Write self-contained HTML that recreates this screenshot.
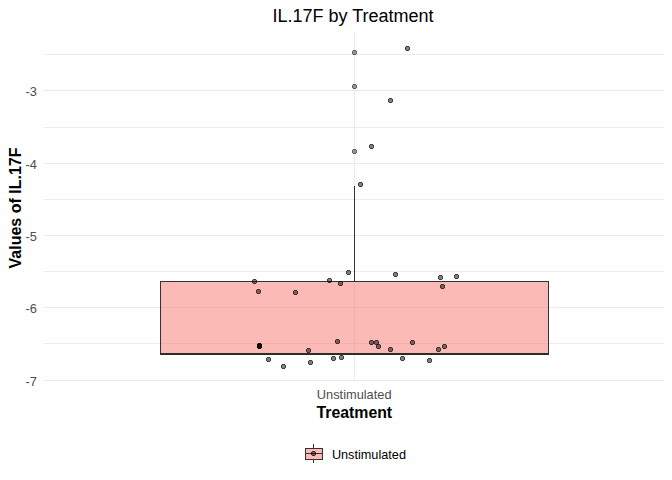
<!DOCTYPE html>
<html><head><meta charset="utf-8"><title>IL.17F by Treatment</title>
<style>
html,body{margin:0;padding:0;background:#fff}
body{width:672px;height:480px;position:relative;overflow:hidden;font-family:"Liberation Sans",sans-serif}
.t{position:absolute;white-space:nowrap;line-height:1}
.title{left:43px;width:620px;top:6.5px;text-align:center;font-size:18px;color:#000}
.yl{position:absolute;left:0;width:37px;text-align:right;font-size:12.8px;line-height:16px;height:16px;color:#4d4d4d;white-space:nowrap}
.xl{left:44.2px;width:620px;top:389px;text-align:center;font-size:12.8px;color:#4d4d4d}
.xt{left:44.3px;width:620px;top:405.3px;text-align:center;font-size:15.85px;font-weight:bold;color:#000}
.yt{left:15.6px;top:208px;font-size:16px;font-weight:bold;color:#000;transform:translate(-50%,-50%) rotate(-90deg);transform-origin:center}
.lg{left:331.9px;top:449px;font-size:12.7px;color:#000}
</style></head><body>
<svg width="672" height="480" viewBox="0 0 672 480" style="position:absolute;left:0;top:0">
<rect width="672" height="480" fill="#fff"/>
<rect x="44" y="54" width="620" height="1" fill="#ebebeb"/>
<rect x="44" y="90" width="620" height="1" fill="#ebebeb"/>
<rect x="44" y="127" width="620" height="1" fill="#ebebeb"/>
<rect x="44" y="163" width="620" height="1" fill="#ebebeb"/>
<rect x="44" y="199" width="620" height="1" fill="#ebebeb"/>
<rect x="44" y="235" width="620" height="1" fill="#ebebeb"/>
<rect x="44" y="271" width="620" height="1" fill="#ebebeb"/>
<rect x="44" y="307" width="620" height="1" fill="#ebebeb"/>
<rect x="44" y="343" width="620" height="1" fill="#ebebeb"/>
<rect x="44" y="380" width="620" height="1" fill="#ebebeb"/>
<rect x="354" y="32" width="1" height="349.5" fill="#ebebeb"/>
<rect x="354" y="186" width="1" height="96" fill="#333"/>
<g transform="translate(352,50)"><path d="M1 0h3v1h-3zM1 4h3v1h-3zM0 1h1v3h-1zM4 1h1v3h-1z" fill="rgba(51,51,51,0.78)"/><path d="M1 1h3v3h-3z" fill="rgba(51,51,51,0.5)"/><path d="M0 0h1v1h-1zM4 0h1v1h-1zM0 4h1v1h-1zM4 4h1v1h-1z" fill="rgba(51,51,51,0.1)"/></g>
<g transform="translate(352,84)"><path d="M1 0h3v1h-3zM1 4h3v1h-3zM0 1h1v3h-1zM4 1h1v3h-1z" fill="rgba(51,51,51,0.78)"/><path d="M1 1h3v3h-3z" fill="rgba(51,51,51,0.5)"/><path d="M0 0h1v1h-1zM4 0h1v1h-1zM0 4h1v1h-1zM4 4h1v1h-1z" fill="rgba(51,51,51,0.1)"/></g>
<g transform="translate(352,149)"><path d="M1 0h3v1h-3zM1 4h3v1h-3zM0 1h1v3h-1zM4 1h1v3h-1z" fill="rgba(51,51,51,0.78)"/><path d="M1 1h3v3h-3z" fill="rgba(51,51,51,0.5)"/><path d="M0 0h1v1h-1zM4 0h1v1h-1zM0 4h1v1h-1zM4 4h1v1h-1z" fill="rgba(51,51,51,0.1)"/></g>
<rect x="160.5" y="281.5" width="388" height="72.5" fill="rgba(248,118,109,0.5)" stroke="#333" stroke-width="1"/>
<rect x="160" y="353" width="389" height="2" fill="#2c2c2c"/>
<g transform="translate(405,46)"><path d="M1 0h3v1h-3zM1 4h3v1h-3zM0 1h1v3h-1zM4 1h1v3h-1z" fill="rgba(0,0,0,0.75)"/><path d="M1 1h3v3h-3z" fill="rgba(0,0,0,0.5)"/><path d="M0 0h1v1h-1zM4 0h1v1h-1zM0 4h1v1h-1zM4 4h1v1h-1z" fill="rgba(0,0,0,0.1)"/></g>
<g transform="translate(388,98)"><path d="M1 0h3v1h-3zM1 4h3v1h-3zM0 1h1v3h-1zM4 1h1v3h-1z" fill="rgba(0,0,0,0.75)"/><path d="M1 1h3v3h-3z" fill="rgba(0,0,0,0.5)"/><path d="M0 0h1v1h-1zM4 0h1v1h-1zM0 4h1v1h-1zM4 4h1v1h-1z" fill="rgba(0,0,0,0.1)"/></g>
<g transform="translate(369,144)"><path d="M1 0h3v1h-3zM1 4h3v1h-3zM0 1h1v3h-1zM4 1h1v3h-1z" fill="rgba(0,0,0,0.75)"/><path d="M1 1h3v3h-3z" fill="rgba(0,0,0,0.5)"/><path d="M0 0h1v1h-1zM4 0h1v1h-1zM0 4h1v1h-1zM4 4h1v1h-1z" fill="rgba(0,0,0,0.1)"/></g>
<g transform="translate(358,182)"><path d="M1 0h3v1h-3zM1 4h3v1h-3zM0 1h1v3h-1zM4 1h1v3h-1z" fill="rgba(0,0,0,0.75)"/><path d="M1 1h3v3h-3z" fill="rgba(0,0,0,0.5)"/><path d="M0 0h1v1h-1zM4 0h1v1h-1zM0 4h1v1h-1zM4 4h1v1h-1z" fill="rgba(0,0,0,0.1)"/></g>
<g transform="translate(252,279)"><path d="M1 0h3v1h-3zM1 4h3v1h-3zM0 1h1v3h-1zM4 1h1v3h-1z" fill="rgba(0,0,0,0.75)"/><path d="M1 1h3v3h-3z" fill="rgba(0,0,0,0.5)"/><path d="M0 0h1v1h-1zM4 0h1v1h-1zM0 4h1v1h-1zM4 4h1v1h-1z" fill="rgba(0,0,0,0.1)"/></g>
<g transform="translate(256,289)"><path d="M1 0h3v1h-3zM1 4h3v1h-3zM0 1h1v3h-1zM4 1h1v3h-1z" fill="rgba(0,0,0,0.75)"/><path d="M1 1h3v3h-3z" fill="rgba(0,0,0,0.5)"/><path d="M0 0h1v1h-1zM4 0h1v1h-1zM0 4h1v1h-1zM4 4h1v1h-1z" fill="rgba(0,0,0,0.1)"/></g>
<g transform="translate(266,357)"><path d="M1 0h3v1h-3zM1 4h3v1h-3zM0 1h1v3h-1zM4 1h1v3h-1z" fill="rgba(0,0,0,0.75)"/><path d="M1 1h3v3h-3z" fill="rgba(0,0,0,0.5)"/><path d="M0 0h1v1h-1zM4 0h1v1h-1zM0 4h1v1h-1zM4 4h1v1h-1z" fill="rgba(0,0,0,0.1)"/></g>
<g transform="translate(281,364)"><path d="M1 0h3v1h-3zM1 4h3v1h-3zM0 1h1v3h-1zM4 1h1v3h-1z" fill="rgba(0,0,0,0.75)"/><path d="M1 1h3v3h-3z" fill="rgba(0,0,0,0.5)"/><path d="M0 0h1v1h-1zM4 0h1v1h-1zM0 4h1v1h-1zM4 4h1v1h-1z" fill="rgba(0,0,0,0.1)"/></g>
<g transform="translate(293,290)"><path d="M1 0h3v1h-3zM1 4h3v1h-3zM0 1h1v3h-1zM4 1h1v3h-1z" fill="rgba(0,0,0,0.75)"/><path d="M1 1h3v3h-3z" fill="rgba(0,0,0,0.5)"/><path d="M0 0h1v1h-1zM4 0h1v1h-1zM0 4h1v1h-1zM4 4h1v1h-1z" fill="rgba(0,0,0,0.1)"/></g>
<g transform="translate(306,348)"><path d="M1 0h3v1h-3zM1 4h3v1h-3zM0 1h1v3h-1zM4 1h1v3h-1z" fill="rgba(0,0,0,0.75)"/><path d="M1 1h3v3h-3z" fill="rgba(0,0,0,0.5)"/><path d="M0 0h1v1h-1zM4 0h1v1h-1zM0 4h1v1h-1zM4 4h1v1h-1z" fill="rgba(0,0,0,0.1)"/></g>
<g transform="translate(308,360)"><path d="M1 0h3v1h-3zM1 4h3v1h-3zM0 1h1v3h-1zM4 1h1v3h-1z" fill="rgba(0,0,0,0.75)"/><path d="M1 1h3v3h-3z" fill="rgba(0,0,0,0.5)"/><path d="M0 0h1v1h-1zM4 0h1v1h-1zM0 4h1v1h-1zM4 4h1v1h-1z" fill="rgba(0,0,0,0.1)"/></g>
<g transform="translate(327,278)"><path d="M1 0h3v1h-3zM1 4h3v1h-3zM0 1h1v3h-1zM4 1h1v3h-1z" fill="rgba(0,0,0,0.75)"/><path d="M1 1h3v3h-3z" fill="rgba(0,0,0,0.5)"/><path d="M0 0h1v1h-1zM4 0h1v1h-1zM0 4h1v1h-1zM4 4h1v1h-1z" fill="rgba(0,0,0,0.1)"/></g>
<g transform="translate(331,356)"><path d="M1 0h3v1h-3zM1 4h3v1h-3zM0 1h1v3h-1zM4 1h1v3h-1z" fill="rgba(0,0,0,0.75)"/><path d="M1 1h3v3h-3z" fill="rgba(0,0,0,0.5)"/><path d="M0 0h1v1h-1zM4 0h1v1h-1zM0 4h1v1h-1zM4 4h1v1h-1z" fill="rgba(0,0,0,0.1)"/></g>
<g transform="translate(335,339)"><path d="M1 0h3v1h-3zM1 4h3v1h-3zM0 1h1v3h-1zM4 1h1v3h-1z" fill="rgba(0,0,0,0.75)"/><path d="M1 1h3v3h-3z" fill="rgba(0,0,0,0.5)"/><path d="M0 0h1v1h-1zM4 0h1v1h-1zM0 4h1v1h-1zM4 4h1v1h-1z" fill="rgba(0,0,0,0.1)"/></g>
<g transform="translate(338,281)"><path d="M1 0h3v1h-3zM1 4h3v1h-3zM0 1h1v3h-1zM4 1h1v3h-1z" fill="rgba(0,0,0,0.75)"/><path d="M1 1h3v3h-3z" fill="rgba(0,0,0,0.5)"/><path d="M0 0h1v1h-1zM4 0h1v1h-1zM0 4h1v1h-1zM4 4h1v1h-1z" fill="rgba(0,0,0,0.1)"/></g>
<g transform="translate(339,355)"><path d="M1 0h3v1h-3zM1 4h3v1h-3zM0 1h1v3h-1zM4 1h1v3h-1z" fill="rgba(0,0,0,0.75)"/><path d="M1 1h3v3h-3z" fill="rgba(0,0,0,0.5)"/><path d="M0 0h1v1h-1zM4 0h1v1h-1zM0 4h1v1h-1zM4 4h1v1h-1z" fill="rgba(0,0,0,0.1)"/></g>
<g transform="translate(346,270)"><path d="M1 0h3v1h-3zM1 4h3v1h-3zM0 1h1v3h-1zM4 1h1v3h-1z" fill="rgba(0,0,0,0.75)"/><path d="M1 1h3v3h-3z" fill="rgba(0,0,0,0.5)"/><path d="M0 0h1v1h-1zM4 0h1v1h-1zM0 4h1v1h-1zM4 4h1v1h-1z" fill="rgba(0,0,0,0.1)"/></g>
<g transform="translate(369,340)"><path d="M1 0h3v1h-3zM1 4h3v1h-3zM0 1h1v3h-1zM4 1h1v3h-1z" fill="rgba(0,0,0,0.75)"/><path d="M1 1h3v3h-3z" fill="rgba(0,0,0,0.5)"/><path d="M0 0h1v1h-1zM4 0h1v1h-1zM0 4h1v1h-1zM4 4h1v1h-1z" fill="rgba(0,0,0,0.1)"/></g>
<g transform="translate(374,340)"><path d="M1 0h3v1h-3zM1 4h3v1h-3zM0 1h1v3h-1zM4 1h1v3h-1z" fill="rgba(0,0,0,0.75)"/><path d="M1 1h3v3h-3z" fill="rgba(0,0,0,0.5)"/><path d="M0 0h1v1h-1zM4 0h1v1h-1zM0 4h1v1h-1zM4 4h1v1h-1z" fill="rgba(0,0,0,0.1)"/></g>
<g transform="translate(376,344)"><path d="M1 0h3v1h-3zM1 4h3v1h-3zM0 1h1v3h-1zM4 1h1v3h-1z" fill="rgba(0,0,0,0.75)"/><path d="M1 1h3v3h-3z" fill="rgba(0,0,0,0.5)"/><path d="M0 0h1v1h-1zM4 0h1v1h-1zM0 4h1v1h-1zM4 4h1v1h-1z" fill="rgba(0,0,0,0.1)"/></g>
<g transform="translate(388,347)"><path d="M1 0h3v1h-3zM1 4h3v1h-3zM0 1h1v3h-1zM4 1h1v3h-1z" fill="rgba(0,0,0,0.75)"/><path d="M1 1h3v3h-3z" fill="rgba(0,0,0,0.5)"/><path d="M0 0h1v1h-1zM4 0h1v1h-1zM0 4h1v1h-1zM4 4h1v1h-1z" fill="rgba(0,0,0,0.1)"/></g>
<g transform="translate(393,272)"><path d="M1 0h3v1h-3zM1 4h3v1h-3zM0 1h1v3h-1zM4 1h1v3h-1z" fill="rgba(0,0,0,0.75)"/><path d="M1 1h3v3h-3z" fill="rgba(0,0,0,0.5)"/><path d="M0 0h1v1h-1zM4 0h1v1h-1zM0 4h1v1h-1zM4 4h1v1h-1z" fill="rgba(0,0,0,0.1)"/></g>
<g transform="translate(400,356)"><path d="M1 0h3v1h-3zM1 4h3v1h-3zM0 1h1v3h-1zM4 1h1v3h-1z" fill="rgba(0,0,0,0.75)"/><path d="M1 1h3v3h-3z" fill="rgba(0,0,0,0.5)"/><path d="M0 0h1v1h-1zM4 0h1v1h-1zM0 4h1v1h-1zM4 4h1v1h-1z" fill="rgba(0,0,0,0.1)"/></g>
<g transform="translate(410,340)"><path d="M1 0h3v1h-3zM1 4h3v1h-3zM0 1h1v3h-1zM4 1h1v3h-1z" fill="rgba(0,0,0,0.75)"/><path d="M1 1h3v3h-3z" fill="rgba(0,0,0,0.5)"/><path d="M0 0h1v1h-1zM4 0h1v1h-1zM0 4h1v1h-1zM4 4h1v1h-1z" fill="rgba(0,0,0,0.1)"/></g>
<g transform="translate(427,358)"><path d="M1 0h3v1h-3zM1 4h3v1h-3zM0 1h1v3h-1zM4 1h1v3h-1z" fill="rgba(0,0,0,0.75)"/><path d="M1 1h3v3h-3z" fill="rgba(0,0,0,0.5)"/><path d="M0 0h1v1h-1zM4 0h1v1h-1zM0 4h1v1h-1zM4 4h1v1h-1z" fill="rgba(0,0,0,0.1)"/></g>
<g transform="translate(436,347)"><path d="M1 0h3v1h-3zM1 4h3v1h-3zM0 1h1v3h-1zM4 1h1v3h-1z" fill="rgba(0,0,0,0.75)"/><path d="M1 1h3v3h-3z" fill="rgba(0,0,0,0.5)"/><path d="M0 0h1v1h-1zM4 0h1v1h-1zM0 4h1v1h-1zM4 4h1v1h-1z" fill="rgba(0,0,0,0.1)"/></g>
<g transform="translate(438,275)"><path d="M1 0h3v1h-3zM1 4h3v1h-3zM0 1h1v3h-1zM4 1h1v3h-1z" fill="rgba(0,0,0,0.75)"/><path d="M1 1h3v3h-3z" fill="rgba(0,0,0,0.5)"/><path d="M0 0h1v1h-1zM4 0h1v1h-1zM0 4h1v1h-1zM4 4h1v1h-1z" fill="rgba(0,0,0,0.1)"/></g>
<g transform="translate(440,284)"><path d="M1 0h3v1h-3zM1 4h3v1h-3zM0 1h1v3h-1zM4 1h1v3h-1z" fill="rgba(0,0,0,0.75)"/><path d="M1 1h3v3h-3z" fill="rgba(0,0,0,0.5)"/><path d="M0 0h1v1h-1zM4 0h1v1h-1zM0 4h1v1h-1zM4 4h1v1h-1z" fill="rgba(0,0,0,0.1)"/></g>
<g transform="translate(442,344)"><path d="M1 0h3v1h-3zM1 4h3v1h-3zM0 1h1v3h-1zM4 1h1v3h-1z" fill="rgba(0,0,0,0.75)"/><path d="M1 1h3v3h-3z" fill="rgba(0,0,0,0.5)"/><path d="M0 0h1v1h-1zM4 0h1v1h-1zM0 4h1v1h-1zM4 4h1v1h-1z" fill="rgba(0,0,0,0.1)"/></g>
<g transform="translate(454,274)"><path d="M1 0h3v1h-3zM1 4h3v1h-3zM0 1h1v3h-1zM4 1h1v3h-1z" fill="rgba(0,0,0,0.75)"/><path d="M1 1h3v3h-3z" fill="rgba(0,0,0,0.5)"/><path d="M0 0h1v1h-1zM4 0h1v1h-1zM0 4h1v1h-1zM4 4h1v1h-1z" fill="rgba(0,0,0,0.1)"/></g>
<g transform="translate(257,343)"><path d="M1 0h3v1h-3zM1 4h3v1h-3zM0 1h1v3h-1zM4 1h1v3h-1z" fill="rgba(0,0,0,0.75)"/><path d="M1 1h3v3h-3z" fill="rgba(0,0,0,0.5)"/><path d="M0 0h1v1h-1zM4 0h1v1h-1zM0 4h1v1h-1zM4 4h1v1h-1z" fill="rgba(0,0,0,0.1)"/></g>
<g transform="translate(257,344)"><path d="M1 0h3v1h-3zM1 4h3v1h-3zM0 1h1v3h-1zM4 1h1v3h-1z" fill="rgba(0,0,0,0.75)"/><path d="M1 1h3v3h-3z" fill="rgba(0,0,0,0.5)"/><path d="M0 0h1v1h-1zM4 0h1v1h-1zM0 4h1v1h-1zM4 4h1v1h-1z" fill="rgba(0,0,0,0.1)"/></g>
<g transform="translate(257,343)"><path d="M1 0h3v1h-3zM1 4h3v1h-3zM0 1h1v3h-1zM4 1h1v3h-1z" fill="rgba(0,0,0,0.75)"/><path d="M1 1h3v3h-3z" fill="rgba(0,0,0,0.5)"/><path d="M0 0h1v1h-1zM4 0h1v1h-1zM0 4h1v1h-1zM4 4h1v1h-1z" fill="rgba(0,0,0,0.1)"/></g>
<g transform="translate(257,344)"><path d="M1 0h3v1h-3zM1 4h3v1h-3zM0 1h1v3h-1zM4 1h1v3h-1z" fill="rgba(0,0,0,0.75)"/><path d="M1 1h3v3h-3z" fill="rgba(0,0,0,0.5)"/><path d="M0 0h1v1h-1zM4 0h1v1h-1zM0 4h1v1h-1zM4 4h1v1h-1z" fill="rgba(0,0,0,0.1)"/></g>
<rect x="313" y="444" width="1" height="5" fill="#333"/>
<rect x="313" y="459" width="1" height="4" fill="#333"/>
<rect x="305.5" y="448.5" width="17" height="11" fill="rgba(248,118,109,0.5)" stroke="#333" stroke-width="1"/>
<rect x="305" y="453" width="18" height="1" fill="#333"/>
<g transform="translate(311,451)"><path d="M1 0h3v1h-3zM1 4h3v1h-3zM0 1h1v3h-1zM4 1h1v3h-1z" fill="rgba(0,0,0,0.75)"/><path d="M1 1h3v3h-3z" fill="rgba(0,0,0,0.5)"/><path d="M0 0h1v1h-1zM4 0h1v1h-1zM0 4h1v1h-1zM4 4h1v1h-1z" fill="rgba(0,0,0,0.1)"/></g>
</svg>
<div class="t title">IL.17F by Treatment</div>
<div class="yl" style="top:84px">-3</div><div class="yl" style="top:157px">-4</div><div class="yl" style="top:229px">-5</div><div class="yl" style="top:301px">-6</div><div class="yl" style="top:374px">-7</div>
<div class="t xl">Unstimulated</div>
<div class="t xt">Treatment</div>
<div class="t yt">Values of IL.17F</div>
<div class="t lg">Unstimulated</div>
</body></html>
